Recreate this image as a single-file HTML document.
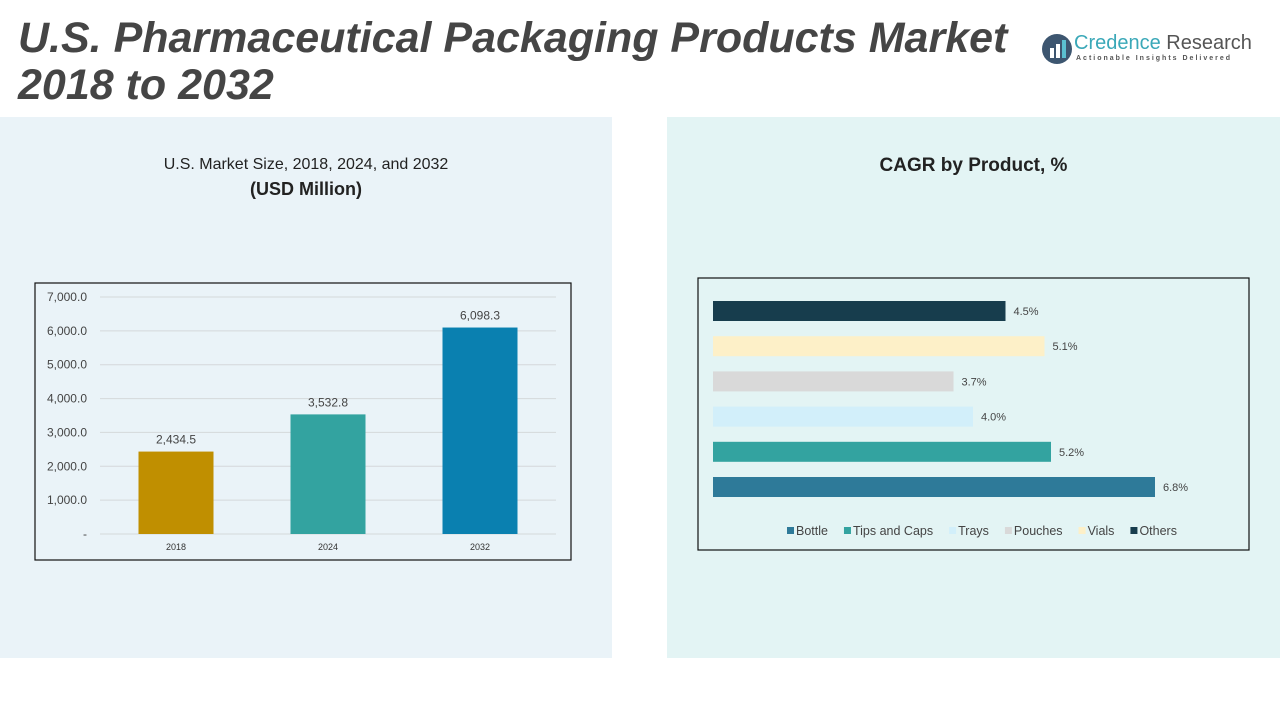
<!DOCTYPE html>
<html><head><meta charset="utf-8"><style>
body{margin:0;width:1280px;height:720px;overflow:hidden;background:#fff;font-family:"Liberation Sans",sans-serif;position:relative}
.abs{position:absolute}
</style></head><body>
<div class="abs" style="left:0;top:117px;width:612px;height:541px;background:#eaf3f8"></div>
<div class="abs" style="left:667px;top:117px;width:613px;height:541px;background:#e3f4f4"></div>
<div class="abs" style="left:18px;top:15px;font-size:43px;line-height:47px;font-weight:bold;font-style:italic;color:#454545;white-space:nowrap">U.S. Pharmaceutical Packaging Products Market<br>2018 to 2032</div>
<div class="abs" style="left:1040px;top:30px;width:220px;height:40px">
<svg width="36" height="36" style="position:absolute;left:0;top:2px"><circle cx="17" cy="17" r="15" fill="#3d5670"/><rect x="10" y="16" width="4" height="10" fill="#fff"/><rect x="16" y="12" width="4" height="14" fill="#fff"/><rect x="22" y="8" width="4" height="18" fill="#5bc0d0"/></svg>
<div class="abs" style="left:34px;top:2px;font-size:20px;color:#3aa8b8;white-space:nowrap">Credence <span style="color:#555">Research</span></div>
<div class="abs" style="left:36px;top:25px;font-size:7px;letter-spacing:2px;color:#555;white-space:nowrap;font-weight:bold">Actionable Insights Delivered</div>
</div>
<div class="abs" style="left:0;width:612px;top:153px;text-align:center;font-size:16px;color:#222;line-height:24px">U.S. Market Size, 2018, 2024, and 2032<br><b style="font-size:18px">(USD Million)</b></div>
<div class="abs" style="left:667px;width:613px;top:155px;text-align:center;font-size:19px;font-weight:bold;color:#222">CAGR by Product, %</div>
<svg class="abs" style="left:0;top:0" width="1280" height="720" id="svg"></svg>
<script>
const years=["2018","2024","2032"];
const sizes=[2434.5,3532.8,6098.3];
const yTicks=[0,1000,2000,3000,4000,5000,6000,7000];
const products=["Others","Vials","Pouches","Trays","Tips and Caps","Bottle"];
const cagr=[4.5,5.1,3.7,4.0,5.2,6.8];
const legendOrder=["Bottle","Tips and Caps","Trays","Pouches","Vials","Others"];
const NS="http://www.w3.org/2000/svg";
const svg=document.getElementById('svg');
function mk(t,a,txt){const e=document.createElementNS(NS,t);for(const k in a)e.setAttribute(k,a[k]);if(txt!=null)e.textContent=txt;svg.appendChild(e);return e;}
const barColors=["#c08f00","#33a3a0","#0a80b0"];
let r=mk('rect',{x:35,y:283,width:536,height:277,fill:'none',stroke:'#111','stroke-width':1.2});


const y0=534,yTop=297,yMax=7000;
const yS=v=>y0-(v/yMax)*(y0-yTop);
yTicks.forEach(v=>{
 let l=mk('line',{x1:100,x2:556,y1:yS(v),y2:yS(v),stroke:'#d4d8da','stroke-width':1});
 
 
 let t=mk('text',{x:87,y:yS(v)+4,'text-anchor':'end','font-size':12,fill:'#444'},v===0?'-':v.toLocaleString('en-US',{minimumFractionDigits:1}));
 
 
});
const step=152,xl=100;
years.forEach((yr,i)=>{
 const cx=xl+step*(i+0.5),w=75;
 let b=mk('rect',{x:cx-w/2,y:yS(sizes[i]),width:w,height:y0-yS(sizes[i]),fill:barColors[i]});
 
 
 let v=mk('text',{x:cx,y:yS(sizes[i])-8,'text-anchor':'middle','font-size':12,fill:'#444'},sizes[i].toLocaleString('en-US',{minimumFractionDigits:1}));
 
 
 let t=mk('text',{x:cx,y:550,'text-anchor':'middle','font-size':9,fill:'#333'},yr);
 
 
});
const pColors={"Others":"#173d4d","Vials":"#fdf0c8","Pouches":"#d9d9d9","Trays":"#d2effa","Tips and Caps":"#33a3a0","Bottle":"#2e7a99"};
let r2=mk('rect',{x:698,y:278,width:551,height:272,fill:'none',stroke:'#111','stroke-width':1.2});


const xS=v=>713+v*65;
products.forEach((p,i)=>{
 const cy=311+i*35.2;
 let b=mk('rect',{x:713,y:cy-10,width:xS(cagr[i])-713,height:20,fill:pColors[p]});
 
 
 let t=mk('text',{x:xS(cagr[i])+8,y:cy+4,'font-size':11,fill:'#444'},cagr[i].toFixed(1)+'%');
 
 
});
let lx=787;
legendOrder.forEach(p=>{
 let s=mk('rect',{x:lx,y:527,width:7,height:7,fill:pColors[p]});
 
 
 let t=mk('text',{x:lx+9,y:535,'font-size':12.5,fill:'#444'},p);
 
 
 lx+=9+t.getComputedTextLength()+16;
});
</script>
</body></html>
